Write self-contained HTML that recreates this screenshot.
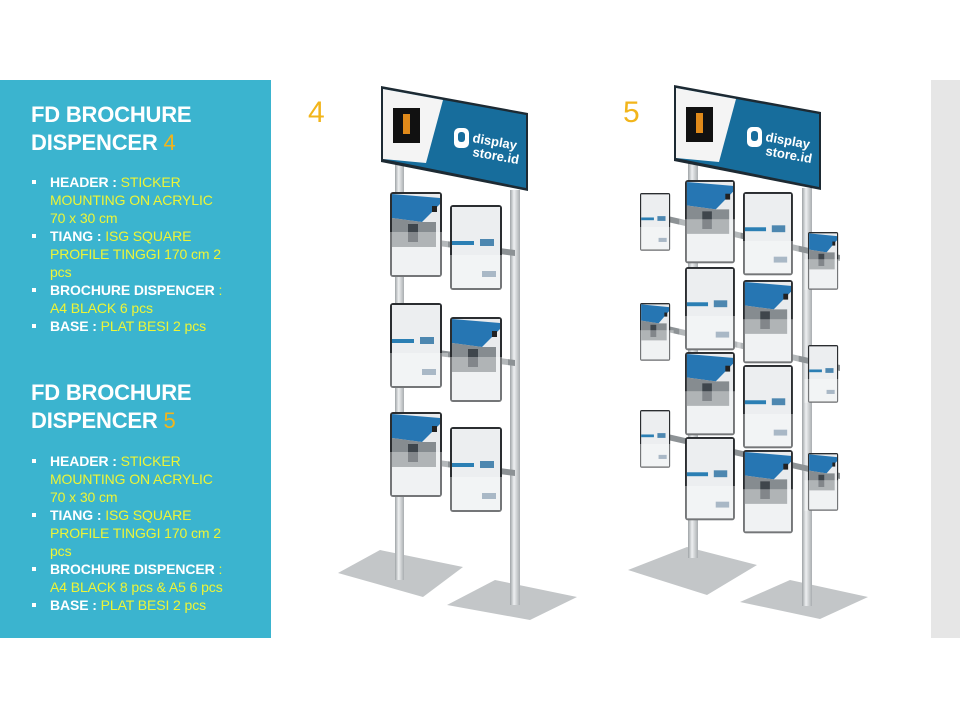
<!DOCTYPE html>
<html><head><meta charset="utf-8"><style>
body{margin:0;width:960px;height:720px;background:#fff;position:relative;overflow:hidden;font-family:"Liberation Sans",sans-serif}
#panel{position:absolute;left:0;top:80px;width:271px;height:558px;background:#3bb4cf}
#gray{position:absolute;left:931px;top:80px;width:29px;height:558px;background:#e6e6e6}
.t{position:absolute;left:31px;color:#fff;font-weight:bold;font-size:22px;line-height:28px;letter-spacing:-0.2px}
.t span{color:#f2b51b;font-weight:normal}
.b{position:absolute;left:32px;font-size:14px;line-height:18px;color:#eef536;letter-spacing:-0.1px;white-space:nowrap}
.b div{position:relative;padding-left:18px}
.b div:before{content:"";position:absolute;left:0;top:7px;width:4px;height:4px;background:#fff}
.b b{color:#fff}
.n{position:absolute;font-size:30px;color:#f2b51b}
</style></head><body>
<div id="panel"></div><div id="gray"></div>
<div class="t" style="top:101px">FD BROCHURE<br>DISPENCER <span>4</span></div>
<div class="b" style="top:173px">
<div><b>HEADER : </b>STICKER<br>MOUNTING ON ACRYLIC<br>70 x 30 cm</div>
<div><b>TIANG : </b>ISG SQUARE<br>PROFILE TINGGI 170 cm 2<br>pcs</div>
<div><b>BROCHURE DISPENCER</b> :<br>A4 BLACK 6 pcs</div>
<div><b>BASE : </b>PLAT BESI 2 pcs</div>
</div>
<div class="t" style="top:379px">FD BROCHURE<br>DISPENCER <span>5</span></div>
<div class="b" style="top:452px">
<div><b>HEADER : </b>STICKER<br>MOUNTING ON ACRYLIC<br>70 x 30 cm</div>
<div><b>TIANG : </b>ISG SQUARE<br>PROFILE TINGGI 170 cm 2<br>pcs</div>
<div><b>BROCHURE DISPENCER</b> :<br>A4 BLACK 8 pcs &amp; A5 6 pcs</div>
<div><b>BASE : </b>PLAT BESI 2 pcs</div>
</div>
<div class="n" style="left:308px;top:96px">4</div>
<div class="n" style="left:623px;top:96px">5</div>
<svg width="960" height="720" style="position:absolute;left:0;top:0">
<defs>
<linearGradient id="pole" x1="0" x2="1"><stop offset="0" stop-color="#9ea3a6"/><stop offset=".4" stop-color="#eef0f1"/><stop offset="1" stop-color="#a9adb0"/></linearGradient>
<g id="ph">
<rect x="0" y="0" width="52" height="85" rx="3" fill="#2a2d30"/>
<rect x="2" y="2" width="48" height="81" fill="#e9ebed"/>
<polygon points="2,2 50,6 50,12 32,30 2,26" fill="#2676b3"/>
<rect x="42" y="14" width="5" height="6" fill="#222"/>
<polygon points="2,26 32,30 46,30 46,55 2,55" fill="#868c90"/>
<rect x="18" y="32" width="10" height="18" fill="#3f464c"/>
<rect x="-6" y="40" width="64" height="45" fill="#fff" opacity=".35"/>
</g>
<g id="wh">
<rect x="0" y="0" width="52" height="85" rx="3" fill="#2a2d30"/>
<rect x="2" y="2" width="48" height="81" fill="#eceef0"/>
<rect x="2" y="36" width="22" height="4" fill="#2b7fb4"/>
<rect x="30" y="34" width="14" height="7" fill="#4d87b0"/>
<rect x="32" y="66" width="14" height="6" fill="#7b93a8"/>
<rect x="-6" y="50" width="64" height="35" fill="#fff" opacity=".35"/>
</g>
<g id="hd">
<polygon points="0,0 147,27 147,105 0,76" fill="#1d2a33"/>
<polygon points="2,3 145,29 145,102 2,73" fill="#176d9c"/>
<polygon points="2,3 62,14 45,77 2,73" fill="#f4f4f4"/>
<rect x="12" y="22" width="27" height="35" fill="#111"/>
<rect x="22" y="28" width="7" height="20" fill="#e08a1a"/>
<rect x="73" y="42" width="15" height="20" rx="5" fill="#fff"/>
<rect x="77" y="46" width="7" height="10" rx="3" fill="#176d9c"/>
<text x="91" y="56" font-size="13" font-weight="bold" fill="#fff" transform="rotate(10 91 56)">display</text>
<text x="91" y="70" font-size="13" font-weight="bold" fill="#fff" transform="rotate(10 91 70)">store.id</text>
</g>
</defs>
<!-- Stand 4 -->
<polygon points="338,573 380,550 463,567 423,597" fill="#c3c6c8"/>
<polygon points="447,605 495,580 577,597 530,620" fill="#c3c6c8"/>
<rect x="395" y="160" width="9" height="420" fill="url(#pole)"/>
<rect x="510" y="190" width="10" height="415" fill="url(#pole)"/>
<g fill="#8d9295"><polygon points="400,235 515,250 515,256 400,241"/><polygon points="400,345 515,360 515,366 400,351"/><polygon points="400,455 515,470 515,476 400,461"/></g>
<use href="#ph" transform="translate(390,192)"/>
<use href="#wh" transform="translate(450,205)"/>
<use href="#wh" transform="translate(390,303)"/>
<use href="#ph" transform="translate(450,317)"/>
<use href="#ph" transform="translate(390,412)"/>
<use href="#wh" transform="translate(450,427)"/>
<use href="#hd" transform="translate(381,86)"/>
<!-- Stand 5 -->
<polygon points="628,570 687,547 757,565 707,595" fill="#c3c6c8"/>
<polygon points="740,602 790,580 868,597 820,619" fill="#c3c6c8"/>
<rect x="688" y="158" width="10" height="400" fill="url(#pole)"/>
<rect x="802" y="188" width="10" height="418" fill="url(#pole)"/>
<g fill="#8d9295"><polygon points="650,212 840,255 840,261 650,218"/><polygon points="650,322 840,365 840,371 650,328"/><polygon points="650,430 840,473 840,479 650,436"/></g>
<use href="#wh" transform="translate(640,193) scale(.58,.68)"/>
<use href="#ph" transform="translate(640,303) scale(.58,.68)"/>
<use href="#wh" transform="translate(640,410) scale(.58,.68)"/>
<use href="#ph" transform="translate(808,232) scale(.58,.68)"/>
<use href="#wh" transform="translate(808,345) scale(.58,.68)"/>
<use href="#ph" transform="translate(808,453) scale(.58,.68)"/>
<use href="#ph" transform="translate(685,180) scale(.96,.98)"/>
<use href="#wh" transform="translate(743,192) scale(.96,.98)"/>
<use href="#wh" transform="translate(685,267) scale(.96,.98)"/>
<use href="#ph" transform="translate(743,280) scale(.96,.98)"/>
<use href="#ph" transform="translate(685,352) scale(.96,.98)"/>
<use href="#wh" transform="translate(743,365) scale(.96,.98)"/>
<use href="#wh" transform="translate(685,437) scale(.96,.98)"/>
<use href="#ph" transform="translate(743,450) scale(.96,.98)"/>
<use href="#hd" transform="translate(674,85)"/>
</svg>
</body></html>
